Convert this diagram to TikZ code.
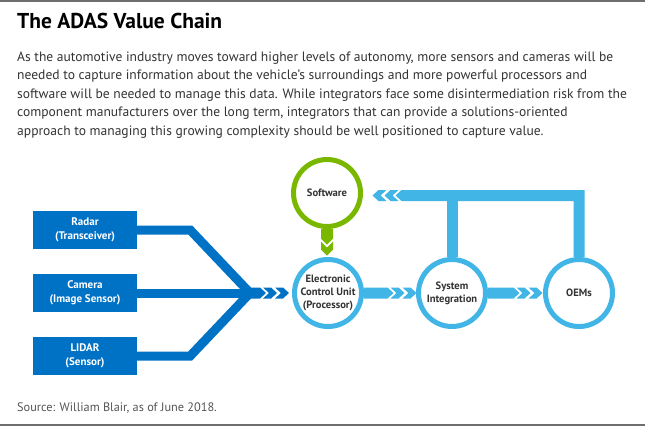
\documentclass[tikz,border=0pt]{standalone}
\usepackage{fontspec}
\setmainfont{PT Sans}
\usetikzlibrary{calc}
\definecolor{dblue}{RGB}{0,114,198}
\definecolor{lblue}{RGB}{65,182,230}
\definecolor{lgreen}{RGB}{122,184,0}
\definecolor{txt}{RGB}{51,51,51}
\definecolor{rulegray}{RGB}{110,110,110}
\definecolor{srcgray}{RGB}{85,85,85}
% bar with a tip pointing east: colour, start anchor, length of the straight part
\newcommand\barE[3]{\fill[#1] ($(#2)+(0,-5.5)$) -- ($(#2)+(#3,-5.5)$) -- ($(#2)+(#3+6,0)$) -- ($(#2)+(#3,5.5)$) -- ($(#2)+(0,5.5)$) -- cycle;}
% chevron pointing east: colour, reference, x offset of its back
\newcommand\chevE[3]{\fill[#1] ($(#2)+(#3,-5.5)$) -- ++(8,0) -- ++(6,5.5) -- ++(-6,5.5) -- ++(-8,0) -- ++(6,-5.5) -- cycle;}
% chevron pointing west
\newcommand\chevW[3]{\fill[#1] ($(#2)+(#3,-5.5)$) -- ++(-8,0) -- ++(-6,5.5) -- ++(6,5.5) -- ++(8,0) -- ++(-6,-5.5) -- cycle;}
\begin{document}
\begin{tikzpicture}[x=1pt,y=-1pt,
  sensor/.style={rectangle, fill=dblue, text=white, font=\bfseries\fontsize{11}{14}\selectfont,
    align=center, minimum width=104, minimum height=38, inner sep=0},
  stage/.style={circle, draw=lblue, line width=5, fill=white, minimum size=67, inner sep=0,
    text=txt, font=\bfseries\fontsize{10.6}{13}\selectfont, align=center},
  sline/.style={dblue, line width=9, line join=miter},
  bodytext/.style={anchor=base west, inner sep=0, text=txt, font=\fontsize{13.55}{18}\selectfont}]
\useasboundingbox (0,0) rectangle (645,426);
\fill[white] (0,0) rectangle (645,426);
\draw[rulegray, line width=1.5] (0,1) -- (645,1);
\draw[rulegray, line width=1.5] (0,425) -- (645,425);

\node[anchor=base west, inner sep=0, font=\bfseries\fontsize{21.5}{24}\selectfont] (title) at (17,28) {The ADAS Value Chain};
\node[bodytext] (b1) at (17,61) {As the automotive industry moves toward higher levels of autonomy, more sensors and cameras will be};
\node[bodytext] (b2) at (17,79.5) {needed to capture information about the vehicle’s surroundings and more powerful processors and};
\node[bodytext] (b3) at (17,98) {software will be needed to manage this data. While integrators face some disintermediation risk from the};
\node[bodytext] (b4) at (17,116.5) {component manufacturers over the long term, integrators that can provide a solutions-oriented};
\node[bodytext] (b5) at (17,135) {approach to managing this growing complexity should be well positioned to capture value.};
\node[anchor=base west, inner sep=0, text=srcgray, font=\fontsize{12.3}{14}\selectfont] (src) at (17,411) {Source: William Blair, as of June 2018.};

% sensors
\node[sensor] (radar) at (85,230) {Radar\\(Transceiver)};
\node[sensor] (camera) at (85,293) {Camera\\(Image Sensor)};
\node[sensor] (lidar) at (85,356) {LIDAR\\(Sensor)};
\coordinate (conv) at (250,293);

% stages
\node[stage] (ecu) at (328,293) {Electronic\\Control Unit\\(Processor)};
\node[stage] (si) at (452,293) {System\\Integration};
\node[stage] (oem) at (579,293) {OEMs};
\node[stage, draw=lgreen] (soft) at (327,193) {Software};

% sensor lines merging
\draw[sline] (radar.east) -- ++(53,0) -- (conv) -- ++(8,0);
\draw[sline] (lidar.east) -- ++(53,0) -- (conv) -- ++(8,0);
\draw[sline] (camera.east) -- (conv);
\barE{dblue}{conv}{10}
\chevE{dblue}{conv}{13}
\chevE{dblue}{conv}{25}

% ECU -> System Integration
\barE{lblue}{ecu.east}{23.5}
\chevE{lblue}{ecu.east}{26.5}
\chevE{lblue}{ecu.east}{38.5}

% System Integration -> OEMs
\barE{lblue}{si.east}{25.5}
\chevE{lblue}{si.east}{28.5}
\chevE{lblue}{si.east}{40.5}

% feedback to software
\coordinate (fb) at ($(soft.east)+(38.5,2.5)$);
\fill[lblue] ($(fb)+(0,-5.5)$) -| ($(oem.north)+(5.5,0)$) -- ($(oem.north)+(-5.5,0)$) |- ($(fb)+(0,5.5)$) -- ($(fb)+(-6,0)$) -- cycle;
\fill[lblue] ($(si.north)+(-5.5,0)$) rectangle ($(fb -| si.north)+(5.5,0)$);
\chevW{lblue}{fb}{-3}
\chevW{lblue}{fb}{-15}

% software -> ECU
\fill[lgreen] ($(soft.south)+(-6,0)$) -- ($(soft.south)+(-6,9.5)$) -- ($(soft.south)+(0,15.5)$) -- ($(soft.south)+(6,9.5)$) -- ($(soft.south)+(6,0)$) -- cycle;
\fill[lgreen] ($(soft.south)+(-6,12.5)$) -- ++(0,8) -- ++(6,6) -- ++(6,-6) -- ++(0,-8) -- ++(-6,6) -- cycle;
\end{tikzpicture}
\end{document}
